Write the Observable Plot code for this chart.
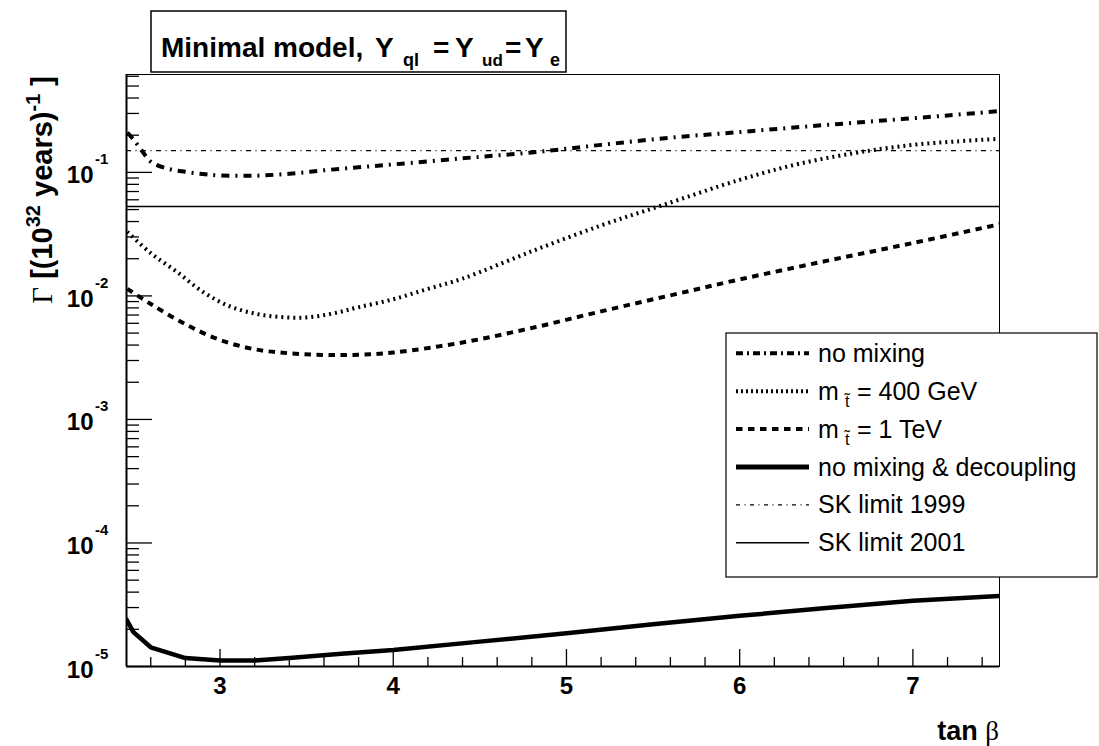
<!DOCTYPE html>
<html><head><meta charset="utf-8">
<script src="https://cdn.jsdelivr.net/npm/d3@7"></script>
<script src="https://cdn.jsdelivr.net/npm/@observablehq/plot@0.6"></script>
<style>
html,body{margin:0;padding:0;background:#fff;}
#chart{position:relative;width:1099px;height:746px;overflow:hidden;}
</style></head><body><div id="chart"></div>
<script>
const SANS = "'Liberation Sans', Arial, Helvetica, sans-serif";
const SERIF = "'Liberation Serif', 'Times New Roman', serif";

const xDomain = [2.46, 7.5];
const yDomain = [1e-5, 0.62];
const xMajor = [3, 4, 5, 6, 7];
const xMinor = [2.6, 2.8, 3.2, 3.4, 3.6, 3.8, 4.2, 4.4, 4.6, 4.8, 5.2, 5.4, 5.6, 5.8, 6.2, 6.4, 6.6, 6.8, 7.2, 7.4];
const yMajor = [1e-5, 1e-4, 1e-3, 1e-2, 1e-1];
const yMinor = [2e-5,3e-5,4e-5,5e-5,6e-5,7e-5,8e-5,9e-5,
                2e-4,3e-4,4e-4,5e-4,6e-4,7e-4,8e-4,9e-4,
                2e-3,3e-3,4e-3,5e-3,6e-3,7e-3,8e-3,9e-3,
                2e-2,3e-2,4e-2,5e-2,6e-2,7e-2,8e-2,9e-2,
                0.2,0.3,0.4,0.5,0.6];

// no mixing
const noMixTan = [2.465, 2.5, 2.55, 2.6, 2.7, 2.8, 2.9, 3.0, 3.2, 3.4, 3.6, 3.8, 4.0, 4.4, 4.8, 5.2, 5.6, 6.0, 6.4, 6.8, 7.2, 7.5];
const noMixVal = [0.21, 0.185, 0.149, 0.122, 0.107, 0.101, 0.097, 0.0945, 0.094, 0.0975, 0.104, 0.110, 0.116, 0.130, 0.145, 0.167, 0.191, 0.212, 0.236, 0.261, 0.289, 0.314];
// m_stop = 400 GeV
const m400Tan = [2.465, 2.6, 2.75, 2.9, 3.05, 3.2, 3.35, 3.5, 3.65, 3.8, 4.0, 4.2, 4.4, 4.8, 5.2, 5.55, 6.0, 6.35, 6.75, 7.0, 7.25, 7.5];
const m400Val = [0.033, 0.0222, 0.0157, 0.0108, 0.0083, 0.0072, 0.00675, 0.0067, 0.0072, 0.0081, 0.0094, 0.0114, 0.0138, 0.0230, 0.0372, 0.054, 0.087, 0.118, 0.150, 0.167, 0.178, 0.187];
// m_stop = 1 TeV
const m1Tan = [2.465, 2.6, 2.8, 3.0, 3.2, 3.4, 3.6, 3.8, 4.0, 4.4, 4.8, 5.2, 5.6, 6.0, 6.5, 7.0, 7.5];
const m1Val = [0.0114, 0.0086, 0.0059, 0.0044, 0.0037, 0.00343, 0.00333, 0.00334, 0.00348, 0.0042, 0.0055, 0.0075, 0.0101, 0.0136, 0.0192, 0.0268, 0.038];
// no mixing & decoupling
const decTan = [2.46, 2.5, 2.6, 2.8, 3.0, 3.2, 3.4, 3.7, 4.0, 4.5, 5.0, 5.5, 6.0, 6.5, 7.0, 7.5];
const decVal = [2.4e-5, 1.9e-5, 1.43e-5, 1.17e-5, 1.12e-5, 1.12e-5, 1.17e-5, 1.27e-5, 1.36e-5, 1.59e-5, 1.86e-5, 2.2e-5, 2.57e-5, 2.97e-5, 3.4e-5, 3.72e-5];
// Super-Kamiokande limits
const sk1999 = 0.15;
const sk2001 = 0.053;

const rows = (xs, ys) => xs.map((x, i) => ({tan: x, val: ys[i]}));

const chart = Plot.plot({
  width: 1099, height: 746,
  marginLeft: 126, marginRight: 100, marginTop: 74, marginBottom: 80,
  style: {fontFamily: SANS, background: "#fff", color: "#000", overflow: "visible"},
  x: {domain: xDomain, label: null},
  y: {type: "log", domain: yDomain, label: null},
  marks: [
    Plot.ruleY([sk2001], {stroke: "#000", strokeWidth: 1.4}),
    Plot.ruleY([sk1999], {stroke: "#000", strokeWidth: 1.2, strokeDasharray: "5,4.5,1,4.5"}),
    Plot.line(rows(noMixTan, noMixVal), {x: "tan", y: "val", curve: "catmull-rom", stroke: "#000", strokeWidth: 4, strokeDasharray: "8,6,2,6", strokeLinecap: "butt", clip: true}),
    Plot.line(rows(m400Tan, m400Val), {x: "tan", y: "val", curve: "catmull-rom", stroke: "#000", strokeWidth: 4, strokeDasharray: "2,4", strokeLinecap: "butt", clip: true}),
    Plot.line(rows(m1Tan, m1Val), {x: "tan", y: "val", curve: "catmull-rom", stroke: "#000", strokeWidth: 4, strokeDasharray: "6.5,5.5", strokeLinecap: "butt", clip: true}),
    Plot.line(rows(decTan, decVal), {x: "tan", y: "val", curve: "linear", stroke: "#000", strokeWidth: 4.5, clip: true}),
    Plot.frame({stroke: "#000", strokeWidth: 1}),
    Plot.axisY({ticks: yMinor, tickSize: -13, tickFormat: () => "", label: null, strokeWidth: 1.3}),
    Plot.axisY({ticks: yMajor, tickSize: -26, tickFormat: () => "", label: null, strokeWidth: 1.3}),
    Plot.axisX({ticks: xMinor, tickSize: -9, tickFormat: () => "", label: null, strokeWidth: 1.3}),
    Plot.axisX({ticks: xMajor, tickSize: -17, tickFormat: () => "", label: null, strokeWidth: 1.3}),
    Plot.ruleX([xDomain[0]], {stroke: "#000", strokeWidth: 2}),
    Plot.ruleY([yDomain[0]], {stroke: "#000", strokeWidth: 2}),
    Plot.text(yMajor, {y: d => d, frameAnchor: "left", text: () => "10", textAnchor: "end", lineAnchor: "bottom", dx: -33, dy: 11, fontSize: 24, fontWeight: "bold", fill: "#000"}),
    Plot.text(yMajor, {y: d => d, frameAnchor: "left", text: d => String(Math.round(Math.log10(d))), textAnchor: "start", lineAnchor: "bottom", dx: -31.5, dy: -8, fontSize: 15, fontWeight: "bold", fill: "#000"}),
    Plot.text(xMajor, {x: d => d, frameAnchor: "bottom", text: d => String(d), lineAnchor: "bottom", dy: 27, fontSize: 24, fontWeight: "bold", fill: "#000"})
  ]
});
document.getElementById("chart").appendChild(chart);

const svg = d3.select(chart);

// Title box
const tg = svg.append("g").attr("text-anchor", "start");
tg.append("rect").attr("x", 151).attr("y", 11).attr("width", 415).attr("height", 61)
  .attr("fill", "#fff").attr("stroke", "#000").attr("stroke-width", 1.5);
const titleParts = [
  ["Minimal model,", 161, 57, 28], ["Y", 375, 57, 28], ["ql", 403, 66, 18],
  ["=", 433, 57, 28], ["Y", 455, 57, 28], ["ud", 482, 66, 17],
  ["=", 505, 57, 28], ["Y", 525, 57, 28], ["e", 550, 66, 18]
];
for (const [s, x, y, fs] of titleParts) {
  tg.append("text").attr("x", x).attr("y", y).attr("font-size", fs).attr("font-weight", "bold")
    .attr("font-family", SANS).attr("fill", "#000").attr("text-anchor", "start").text(s);
}

// Y axis title
const yt = svg.append("text").attr("transform", "translate(52,76) rotate(-90)")
  .attr("text-anchor", "end").attr("font-family", SANS).attr("font-size", 29)
  .attr("font-weight", "bold").attr("fill", "#000").style("white-space", "pre");
yt.append("tspan").attr("font-family", SERIF).attr("font-weight", "normal").text("\u0393");
yt.append("tspan").text(" [(10");
yt.append("tspan").attr("font-size", 20).attr("dy", -12).text("32");
yt.append("tspan").attr("dy", 12).text(" years)");
yt.append("tspan").attr("font-size", 20).attr("dy", -12).text("-1");
yt.append("tspan").attr("dy", 12).text(" ]");

// X axis title
const xt = svg.append("text").attr("x", 999).attr("y", 740).attr("text-anchor", "end")
  .attr("font-family", SANS).attr("font-size", 27).attr("font-weight", "bold")
  .attr("fill", "#000").style("white-space", "pre");
xt.append("tspan").text("tan ");
xt.append("tspan").attr("font-family", SERIF).attr("font-weight", "normal").text("\u03B2");

// Legend
const legendItems = [
  {label: "no mixing", w: 4, dash: "7,4,2,4"},
  {label: "m", sub: "= 400 GeV", w: 4, dash: "2,3"},
  {label: "m", sub: "= 1 TeV", w: 4, dash: "6.5,5.5"},
  {label: "no mixing & decoupling", w: 5, dash: null},
  {label: "SK limit 1999", w: 1.2, dash: "4,4.5,1,4.5"},
  {label: "SK limit 2001", w: 1.4, dash: null}
];
const lg = svg.append("g").attr("text-anchor", "start");
lg.append("rect").attr("x", 726).attr("y", 333).attr("width", 371).attr("height", 244)
  .attr("fill", "#fff").attr("stroke", "#000").attr("stroke-width", 1.2);
legendItems.forEach((it, i) => {
  const cy = 353.3 + i * 37.9;
  const ln = lg.append("line").attr("x1", 736).attr("x2", 809).attr("y1", cy).attr("y2", cy)
    .attr("stroke", "#000").attr("stroke-width", it.w);
  if (it.dash) ln.attr("stroke-dasharray", it.dash);
  lg.append("text").attr("x", 818).attr("y", cy + 8.5).attr("font-family", SANS)
    .attr("font-size", 25).attr("fill", "#000").attr("text-anchor", "start").text(it.label);
  if (it.sub) {
    lg.append("text").attr("x", 845).attr("y", cy + 15.5).attr("font-family", SANS)
      .attr("font-size", 16).attr("fill", "#000").attr("text-anchor", "start").text("t\u0303");
    lg.append("text").attr("x", 857).attr("y", cy + 8.5).attr("font-family", SANS)
      .attr("font-size", 25).attr("fill", "#000").attr("text-anchor", "start").style("white-space", "pre").text(it.sub);
  }
});
</script>
</body></html>
